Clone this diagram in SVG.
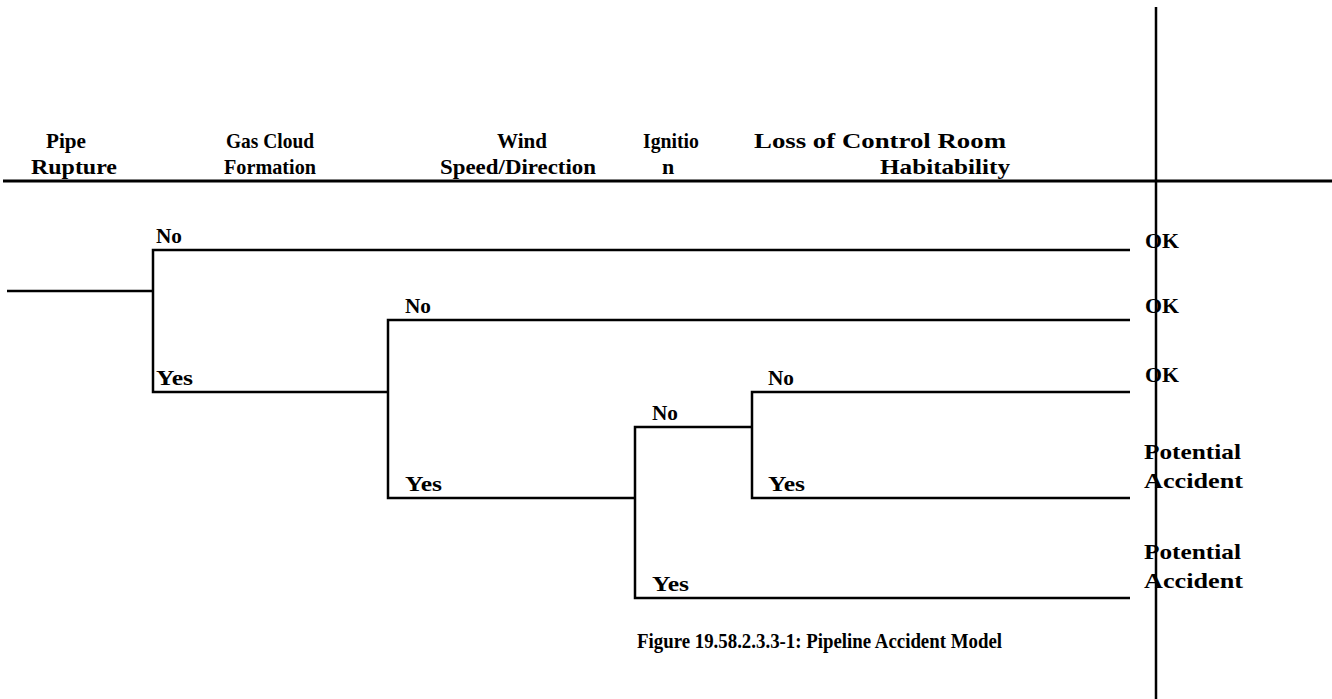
<svg xmlns="http://www.w3.org/2000/svg" width="1332" height="699" viewBox="0 0 1332 699">
<style>
text{font-family:"Liberation Serif","Times New Roman",serif;font-weight:bold;font-size:22px;fill:#000}
.h{text-anchor:middle}
.l{font-size:21px}
.c{font-size:21px}
line,path{stroke:#000;stroke-width:2.5;fill:none}
</style>
<rect width="1332" height="699" fill="#fff"/>
<g id="headers">
<text class="h" x="66" y="148" textLength="40" lengthAdjust="spacingAndGlyphs">Pipe</text>
<text class="h" x="74" y="174" textLength="86" lengthAdjust="spacingAndGlyphs">Rupture</text>
<text class="h" x="270" y="148" textLength="88" lengthAdjust="spacingAndGlyphs">Gas Cloud</text>
<text class="h" x="270" y="174" textLength="92" lengthAdjust="spacingAndGlyphs">Formation</text>
<text class="h" x="522" y="148" textLength="50" lengthAdjust="spacingAndGlyphs">Wind</text>
<text class="h" x="518" y="174" textLength="156" lengthAdjust="spacingAndGlyphs">Speed/Direction</text>
<text class="h" x="671" y="148" textLength="56" lengthAdjust="spacingAndGlyphs">Ignitio</text>
<text class="h" x="668" y="174">n</text>
<text class="h" x="880" y="148" textLength="252" lengthAdjust="spacingAndGlyphs">Loss of Control Room</text>
<text class="h" x="945" y="174" textLength="130" lengthAdjust="spacingAndGlyphs">Habitability</text>
</g>
<g id="connectors">
<line x1="3" y1="181" x2="1332" y2="181" style="stroke-width:3"/>
<line x1="1156" y1="7" x2="1156" y2="699" style="stroke-width:2.5"/>
<line x1="7" y1="291" x2="153" y2="291"/>
<path d="M1130 250 H153 V392 H388"/>
<path d="M1130 320 H388 V498 H635"/>
<path d="M1130 598 H635 V427 H752"/>
<path d="M1130 392 H752 V498 H1130"/>
</g>
<g id="labels">
<text class="l" x="156" y="243" textLength="26" lengthAdjust="spacingAndGlyphs">No</text>
<text class="l" x="156" y="385" textLength="37" lengthAdjust="spacingAndGlyphs">Yes</text>
<text class="l" x="405" y="313" textLength="26" lengthAdjust="spacingAndGlyphs">No</text>
<text class="l" x="405" y="491" textLength="37" lengthAdjust="spacingAndGlyphs">Yes</text>
<text class="l" x="652" y="420" textLength="26" lengthAdjust="spacingAndGlyphs">No</text>
<text class="l" x="652" y="591" textLength="37" lengthAdjust="spacingAndGlyphs">Yes</text>
<text class="l" x="768" y="385" textLength="26" lengthAdjust="spacingAndGlyphs">No</text>
<text class="l" x="768" y="491" textLength="37" lengthAdjust="spacingAndGlyphs">Yes</text>
</g>
<g id="outcomes">
<text x="1145" y="248" textLength="34" lengthAdjust="spacingAndGlyphs">OK</text>
<text x="1145" y="313" textLength="34" lengthAdjust="spacingAndGlyphs">OK</text>
<text x="1145" y="382" textLength="34" lengthAdjust="spacingAndGlyphs">OK</text>
<text x="1144" y="459" textLength="97" lengthAdjust="spacingAndGlyphs">Potential</text>
<text x="1144" y="488" textLength="99" lengthAdjust="spacingAndGlyphs">Accident</text>
<text x="1144" y="559" textLength="97" lengthAdjust="spacingAndGlyphs">Potential</text>
<text x="1144" y="588" textLength="99" lengthAdjust="spacingAndGlyphs">Accident</text>
</g>
<g id="caption">
<text class="c" x="637" y="648" textLength="365" lengthAdjust="spacingAndGlyphs">Figure 19.58.2.3.3-1:  Pipeline Accident Model</text>
</g>
</svg>
